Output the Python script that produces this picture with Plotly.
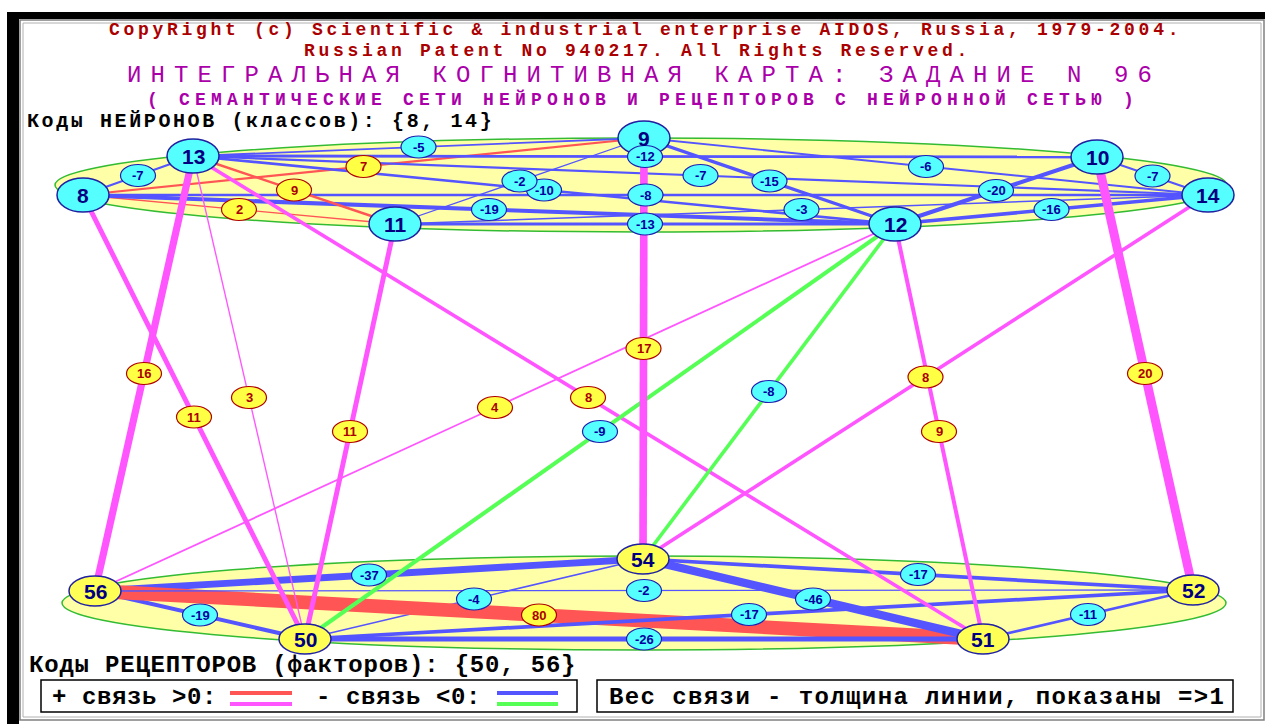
import plotly.graph_objects as go

# ---------------- data ----------------
CLASS_NODES = [8, 13, 9, 10, 14, 11, 12]          # нейроны (классы)
FACTOR_NODES = [56, 54, 52, 50, 51]               # рецепторы (факторы)

CLASS_FROM = [8, 8, 8, 8, 8, 13, 13, 13, 13, 13, 9, 9, 9, 11, 11, 12, 12, 10]
CLASS_TO = [13, 9, 11, 12, 14, 9, 11, 12, 14, 10, 11, 12, 14, 12, 14, 10, 14, 14]
CLASS_W = [-7, 7, 2, -19, -8, -5, 9, -10, -7, -12, -2, -15, -6, -13, -3, -20, -16, -7]

FACTOR_FROM = [56, 56, 50, 56, 56, 50, 54, 54, 50, 51]
FACTOR_TO = [54, 50, 54, 51, 52, 51, 52, 51, 52, 52]
FACTOR_W = [-37, -19, -4, 80, -2, -26, -17, -46, -17, -11]

CROSS_FROM = [13, 8, 13, 11, 12, 13, 12, 9, 12, 14, 12, 10]
CROSS_TO = [56, 50, 50, 50, 56, 51, 50, 54, 54, 54, 51, 52]
CROSS_W = [16, 11, 3, 11, 4, 8, -9, 17, -8, 8, 9, 20]

TITLE_1 = "CopyRight (c) Scientific & industrial enterprise AIDOS, Russia, 1979-2004."
TITLE_2 = "Russian Patent No 940217. All Rights Reserved."
TITLE_3 = "ИНТЕГРАЛЬНАЯ КОГНИТИВНАЯ КАРТА: ЗАДАНИЕ N 96"
TITLE_4 = "( СЕМАНТИЧЕСКИЕ СЕТИ НЕЙРОНОВ И РЕЦЕПТОРОВ С НЕЙРОННОЙ СЕТЬЮ )"
CLASS_CAPTION = "Коды НЕЙРОНОВ (классов): {8, 14}"
FACTOR_CAPTION = "Коды РЕЦЕПТОРОВ (факторов): {50, 56}"
LEG_POS = "+ связь >0:"
LEG_NEG = "- связь <0:"
LEG_WIDTH = "Вес связи - толщина линии, показаны =>1"

# ---------------- layout of the network (pixel-like canvas) ----------------
W, H = 1268, 724
NODE_POS = {8: (83, 195), 13: (193, 156), 9: (644, 138), 10: (1097, 157),
            14: (1208, 195), 11: (395, 224), 12: (895, 224),
            56: (95, 591), 54: (643, 559), 52: (1193, 590), 50: (305, 639), 51: (983, 639)}
UPPER_ELL = (641, 185, 586, 47)
LOWER_ELL = (644, 603, 582, 47)

RED, MAGENTA, BLUE, GREEN = "#ff5555", "#ff55ff", "#5555ff", "#55ff55"
NAVY, DKRED, PURPLE = "#000080", "#aa0000", "#aa00aa"
MONO = "Liberation Mono"

fig = go.Figure()
shapes = []
annotations = []

# frame
shapes.append(dict(type="rect", x0=7, y0=12, x1=1265, y1=19, fillcolor="black", line_width=0, layer="below"))
shapes.append(dict(type="rect", x0=7, y0=12, x1=19, y1=724, fillcolor="black", line_width=0, layer="below"))
shapes.append(dict(type="rect", x0=20, y0=20, x1=1264, y1=720, line=dict(color="#808080", width=1.5), layer="below"))
shapes.append(dict(type="rect", x0=23, y0=23, x1=1261, y1=717, line=dict(color="#b0b0b0", width=1), layer="below"))

# ellipses
for cx, cy, rx, ry in (UPPER_ELL, LOWER_ELL):
    shapes.append(dict(type="circle", x0=cx - rx, x1=cx + rx, y0=cy - ry, y1=cy + ry,
                       fillcolor="#ffffa8", line=dict(color="#33bb33", width=1.5), layer="below"))


def add_links(src, dst, wts, pos_col, neg_col, width_fn):
    for a, b, w in zip(src, dst, wts):
        (x1, y1), (x2, y2) = NODE_POS[a], NODE_POS[b]
        fig.add_trace(go.Scatter(x=[x1, x2], y=[y1, y2], mode="lines",
                                 line=dict(color=pos_col if w > 0 else neg_col, width=width_fn(abs(w))),
                                 hoverinfo="skip", showlegend=False))


inner_w = lambda v: 1 + v * 0.16
cross_w = lambda v: max(1, v * 0.45)
add_links(CLASS_FROM, CLASS_TO, CLASS_W, RED, BLUE, inner_w)
add_links(FACTOR_FROM, FACTOR_TO, FACTOR_W, RED, BLUE, inner_w)
add_links(CROSS_FROM, CROSS_TO, CROSS_W, MAGENTA, GREEN, cross_w)

# nodes
for n in CLASS_NODES + FACTOR_NODES:
    x, y = NODE_POS[n]
    upper = n in CLASS_NODES
    hw, hh = (26, 17) if upper else (26, 15)
    shapes.append(dict(type="circle", x0=x - hw, x1=x + hw, y0=y - hh, y1=y + hh,
                       fillcolor="#55ffff" if upper else "#ffff55",
                       line=dict(color="#2020a0", width=1.5), layer="above"))
    annotations.append(dict(x=x, y=y, text=f"<b>{n}</b>", showarrow=False,
                            font=dict(family="Liberation Sans", size=21, color=NAVY)))

# link weight labels
for src, dst, wts in ((CLASS_FROM, CLASS_TO, CLASS_W), (FACTOR_FROM, FACTOR_TO, FACTOR_W),
                      (CROSS_FROM, CROSS_TO, CROSS_W)):
    for a, b, w in zip(src, dst, wts):
        (x1, y1), (x2, y2) = NODE_POS[a], NODE_POS[b]
        mx, my = (x1 + x2) / 2, (y1 + y2) / 2
        pos = w > 0
        shapes.append(dict(type="circle", x0=mx - 17.5, x1=mx + 17.5, y0=my - 11, y1=my + 11,
                           fillcolor="#ffff44" if pos else "#55ffff",
                           line=dict(color="#b00000" if pos else "#2020b0", width=1.2), layer="above"))
        annotations.append(dict(x=mx, y=my, text=f"<b>{w}</b>", showarrow=False,
                                font=dict(family="Liberation Sans", size=13,
                                          color=DKRED if pos else "#0000a0")))


# titles
def sp(text, ls):
    return f'<span style="letter-spacing:{ls}px">{text}</span>'


annotations += [
    dict(x=107, y=30, xanchor="left", text="<b>" + sp(TITLE_1, 3.7) + "</b>", showarrow=False,
         font=dict(family=MONO, size=18, color=DKRED)),
    dict(x=302, y=51, xanchor="left", text="<b>" + sp(TITLE_2, 3.7) + "</b>", showarrow=False,
         font=dict(family=MONO, size=18, color=DKRED)),
    dict(x=125, y=75, xanchor="left", text=sp(TITLE_3, 9.1), showarrow=False,
         font=dict(family=MONO, size=24, color=PURPLE)),
    dict(x=145, y=99, xanchor="left", text="<b>" + sp(TITLE_4, 5.2) + "</b>", showarrow=False,
         font=dict(family=MONO, size=18, color=PURPLE)),
    dict(x=25, y=121, xanchor="left", text="<b>" + sp(CLASS_CAPTION, 2.6) + "</b>", showarrow=False,
         font=dict(family=MONO, size=20, color="black")),
    dict(x=27, y=665, xanchor="left", text="<b>" + sp(FACTOR_CAPTION, 0.8) + "</b>", showarrow=False,
         font=dict(family=MONO, size=24, color="black")),
]

# legend boxes
shapes.append(dict(type="rect", x0=41, y0=680, x1=577, y1=712, fillcolor="white",
                   line=dict(color="black", width=1.5), layer="above"))
shapes.append(dict(type="rect", x0=597, y0=680, x1=1233, y1=712, fillcolor="white",
                   line=dict(color="black", width=1.5), layer="above"))
for x0, x1, y, col in ((230, 292, 693, RED), (230, 292, 704, MAGENTA),
                       (497, 558, 693, BLUE), (497, 558, 704, GREEN)):
    shapes.append(dict(type="line", x0=x0, x1=x1, y0=y, y1=y, line=dict(color=col, width=4), layer="above"))
annotations += [
    dict(x=50, y=697, xanchor="left", text="<b>" + sp(LEG_POS, 0.6) + "</b>", showarrow=False,
         font=dict(family=MONO, size=24, color="black")),
    dict(x=314, y=697, xanchor="left", text="<b>" + sp(LEG_NEG, 0.6) + "</b>", showarrow=False,
         font=dict(family=MONO, size=24, color="black")),
    dict(x=607, y=697, xanchor="left", text="<b>" + sp(LEG_WIDTH, 1.4) + "</b>", showarrow=False,
         font=dict(family=MONO, size=24, color="black")),
]

fig.update_layout(
    width=W, height=H, margin=dict(l=0, r=0, t=0, b=0, pad=0),
    paper_bgcolor="white", plot_bgcolor="white",
    xaxis=dict(range=[0, W], visible=False, fixedrange=True),
    yaxis=dict(range=[H, 0], visible=False, fixedrange=True),
    shapes=shapes, annotations=annotations, showlegend=False,
    font=dict(family="Liberation Sans"),
)

fig.write_html("out.html", config={"displayModeBar": False},
               post_script="document.body.style.margin='0';document.body.style.overflow='hidden';")
